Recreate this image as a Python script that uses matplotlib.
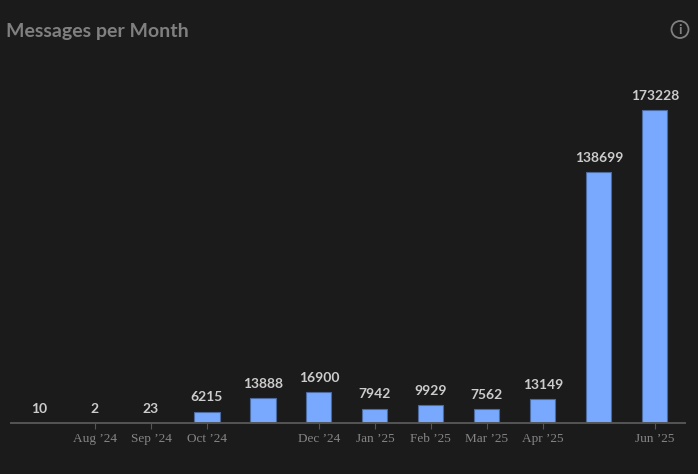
import matplotlib
matplotlib.use('Agg')
from matplotlib import pyplot as plt
from matplotlib.patches import Circle

months = ["Jul '24", "Aug '24", "Sep '24", "Oct '24", "Nov '24", "Dec '24",
          "Jan '25", "Feb '25", "Mar '25", "Apr '25", "May '25", "Jun '25"]
messages = [10, 2, 23, 6215, 13888, 16900, 7942, 9929, 7562, 13149, 138699, 173228]
tick_idx = [1, 2, 3, 5, 6, 7, 8, 9, 11]
tick_labels = ["Aug ’24", "Sep ’24", "Oct ’24", "Dec ’24", "Jan ’25", "Feb ’25",
               "Mar ’25", "Apr ’25", "Jun ’25"]

W, H = 698, 474
BG = '#1b1b1b'

fig = plt.figure(figsize=(W / 100, H / 100), dpi=100, facecolor=BG)
# axes placed in pixels: baseline at y=423, line from x=11 to x=685
ax = fig.add_axes([11 / W, (H - 423) / H, 674 / W, 343 / H], facecolor=BG)

x = list(range(len(months)))
ax.bar(x, messages, width=0.45, color='#78a9ff', edgecolor='#4a6aa0', linewidth=0.8)
ax.set_xlim(-0.5, 11.54)
ax.set_ylim(0, 173228 * 343 / 313)

for i, v in zip(x, messages):
    ax.annotate(str(v), (i, v), xytext=(0, 6), textcoords='offset points',
                ha='center', va='bottom', color='#cccccc', fontsize=10,
                fontfamily='Lato', fontweight='bold')

for side in ['top', 'left', 'right']:
    ax.spines[side].set_visible(False)
ax.spines['bottom'].set_color('#555555')
ax.spines['bottom'].set_linewidth(1.4)
ax.set_yticks([])
ax.set_xticks(tick_idx)
ax.set_xticklabels(tick_labels, fontfamily='Liberation Serif', fontsize=9.5, color='#858585')
ax.tick_params(axis='x', length=4, width=0.8, color='#555555', pad=3)

fig.text(6 / W, 1 - 32 / H, 'Messages per Month', color='#808080', fontsize=14,
         fontfamily='Lato', fontweight='bold', va='center', ha='left')

# info icon, top right
icon = fig.add_axes([0, 0, 1, 1], facecolor='none')
icon.set_xlim(0, W)
icon.set_ylim(H, 0)
icon.axis('off')
icon.add_patch(Circle((680, 29.5), 8.5, fill=False, edgecolor='#808080', linewidth=1.3))
icon.text(680, 30, 'i', color='#808080', fontsize=10, fontfamily='Lato', fontweight='bold',
          ha='center', va='center')

fig.savefig('out.png', dpi=100, facecolor=BG)
